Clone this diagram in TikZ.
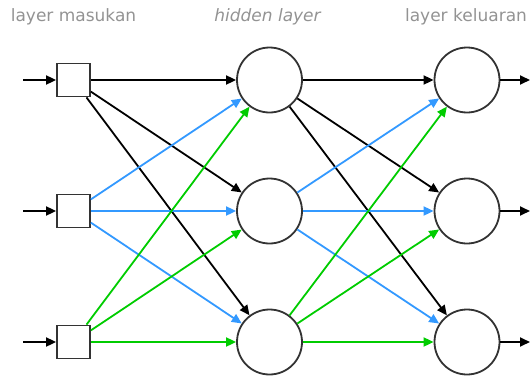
\documentclass[tikz,border=0pt]{standalone}
\usepackage{fontspec}
\setsansfont{DejaVu Sans}
\usetikzlibrary{arrows.meta}
\definecolor{nnblue}{HTML}{3399FF}
\definecolor{nngreen}{HTML}{00CC00}
\definecolor{nngray}{HTML}{939393}
\tikzset{
  nn_node/.style = {draw=black!80, line width=1.8pt, fill=white,
    inner sep=0pt},
  nn_in/.style = {nn_node, rectangle, minimum size=33pt},% layer masukan
  nn_neur/.style = {nn_node, circle, minimum size=65pt},% neuron
  nn_title/.style = {nngray, anchor=base,
    font=\sffamily\fontsize{17}{20}\selectfont}
}

\begin{document}
\begin{tikzpicture}[x=1pt,y=-1pt,line width=1.8pt,
  >={Triangle[length=10pt,width=9pt]}]
\useasboundingbox (0,0) rectangle (530,375);
% judul
\node [nn_title] (t_in) at (73.5,21.7) {layer masukan};
\node [nn_title] (t_h) at (267.5,21.7) {\itshape hidden layer};
\node [nn_title] (t_out) at (466,21.7) {layer keluaran};
% node
\foreach \i/\y in {1/80,2/211,3/342}{
  \node [nn_in] (in\i) at (73.5,\y) {};
  \node [nn_neur] (h\i) at (269.5,\y) {};
  \node [nn_neur] (out\i) at (467,\y) {};
  \coordinate (a\i) at (23,\y);
  \coordinate (b\i) at (530,\y);
  \draw [->] (a\i) -- (in\i);
  \draw [->] (out\i) -- (b\i);
}
% koneksi
\foreach \i/\c in {1/black,2/nnblue,3/nngreen}
  \foreach \j in {1,2,3}{
    \draw [->,\c] (in\i) -- (h\j);
    \draw [->,\c] (h\i) -- (out\j);
  }
\end{tikzpicture}
\end{document}
